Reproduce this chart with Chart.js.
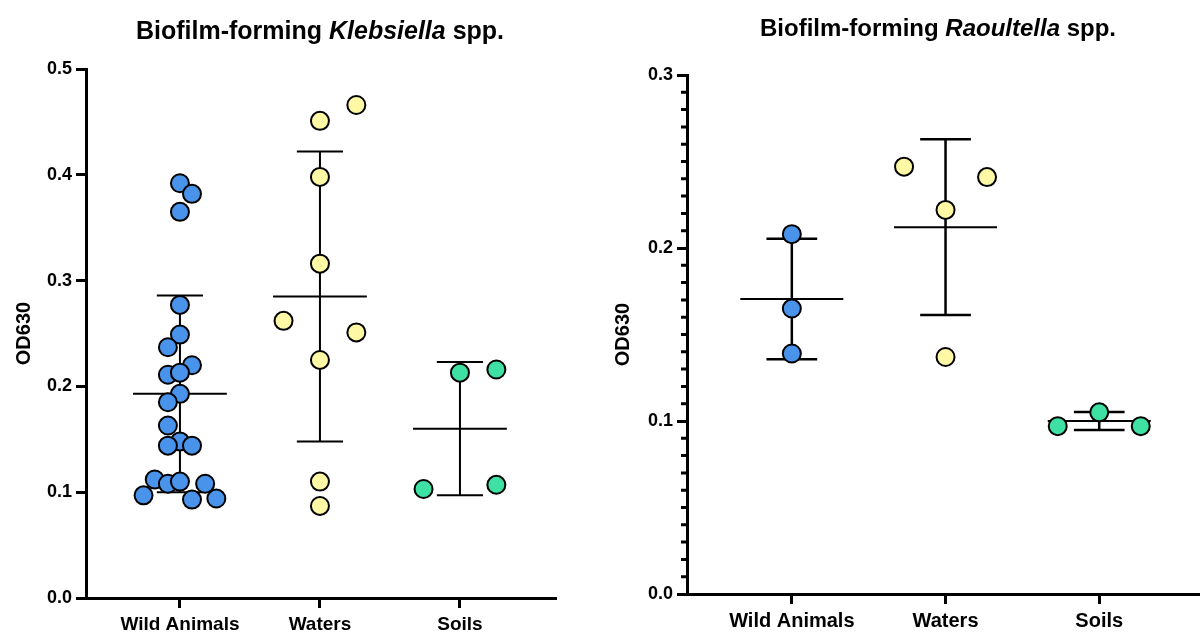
<!DOCTYPE html>
<html>
<head>
<meta charset="utf-8">
<script src="https://cdn.jsdelivr.net/npm/chart.js@4.4.1/dist/chart.umd.min.js"></script>
<style>
  body { margin: 0; background: #fff; }
  #wrap { position: relative; width: 1200px; height: 633px; overflow: hidden; font-family: "Liberation Sans", Arial, sans-serif; }
  .panel { position: absolute; top: 0; width: 600px; height: 633px; }
  .title { position: absolute; font-weight: bold; white-space: nowrap; line-height: 1; transform: translateX(-50%); color: #000; }
</style>
</head>
<body>
<div id="wrap">
  <div class="panel" style="left:0"><canvas id="klebChart"></canvas></div>
  <div class="panel" style="left:600px; width:612px"><canvas id="raoulChart"></canvas></div>
  <div class="title" style="left:320px; top:18px; font-size:25px">Biofilm-forming <i>Klebsiella</i> spp.</div>
  <div class="title" style="left:938px; top:16px; font-size:24px">Biofilm-forming <i>Raoultella</i> spp.</div>
</div>

<script>
const groups = ["Wild Animals", "Waters", "Soils"];

// Klebsiella spp. (left panel)
const klebWildOD = [0.392, 0.382, 0.365, 0.277, 0.249, 0.237, 0.220, 0.211, 0.213, 0.193, 0.185,
                    0.163, 0.148, 0.144, 0.144, 0.112, 0.108, 0.110, 0.108, 0.097, 0.093, 0.094];
const klebWildJitter = [0, 0.086, 0, 0, 0, -0.086, 0.086, -0.086, 0, 0, -0.086,
                        -0.086, 0, -0.086, 0.086, -0.18, -0.086, 0, 0.18, -0.26, 0.086, 0.26];
const klebWaterOD = [0.466, 0.451, 0.398, 0.316, 0.262, 0.251, 0.225, 0.110, 0.087];
const klebWaterJitter = [0.26, 0, 0, 0, -0.26, 0.26, 0, 0, 0];
const klebSoilOD = [0.213, 0.216, 0.103, 0.107];
const klebSoilJitter = [0, 0.26, -0.26, 0.26];
const klebMean = [0.193, 0.285, 0.160];
const klebSD = [0.093, 0.137, 0.063];

// Raoultella spp. (right panel)
const raoulWildOD = [0.208, 0.165, 0.139];
const raoulWildJitter = [0, 0, 0];
const raoulWaterOD = [0.247, 0.241, 0.222, 0.137];
const raoulWaterJitter = [-0.27, 0.27, 0, 0];
const raoulSoilOD = [0.105, 0.097, 0.097];
const raoulSoilJitter = [0, -0.27, 0.27];
const raoulMean = [0.1705, 0.212, 0.100];
const raoulSD = [0.0348, 0.0508, 0.0052];

const groupColors = ["#4a93ea", "#fff9a6", "#3ee0a3"];

Chart.defaults.font.family = "'Liberation Sans', Arial, sans-serif";
Chart.defaults.color = "#000";

// mean line + SD whiskers, drawn under the points
const errorBarPlugin = {
  id: "errorBars",
  beforeDatasetsDraw(chart, args, opts) {
    const { ctx, scales: { x, y } } = chart;
    ctx.save();
    ctx.strokeStyle = "#000";
    opts.means.forEach((m, i) => {
      const cx = x.getPixelForValue(i);
      const yTop = y.getPixelForValue(m + opts.sds[i]);
      const yBot = y.getPixelForValue(m - opts.sds[i]);
      const yMean = y.getPixelForValue(m);
      ctx.lineWidth = opts.barWidth;
      ctx.beginPath();
      ctx.moveTo(cx, yTop);
      ctx.lineTo(cx, yBot);
      [yTop, yBot].forEach(py => {
        ctx.moveTo(x.getPixelForValue(i - opts.capHalf), py);
        ctx.lineTo(x.getPixelForValue(i + opts.capHalf), py);
      });
      ctx.stroke();
      ctx.lineWidth = opts.meanWidth;
      ctx.beginPath();
      ctx.moveTo(x.getPixelForValue(i - opts.meanHalf), yMean);
      ctx.lineTo(x.getPixelForValue(i + opts.meanHalf), yMean);
      ctx.stroke();
    });
    ctx.restore();
  }
};

// short minor ticks on the y axis
const minorTickPlugin = {
  id: "minorTicks",
  afterDraw(chart, args, opts) {
    if (!opts.step) return;
    const { ctx, chartArea, scales: { y } } = chart;
    ctx.save();
    ctx.strokeStyle = "#000";
    ctx.lineWidth = 3;
    ctx.beginPath();
    for (let k = 1; k * opts.step < y.max - 1e-9; k++) {
      if (k % opts.every === 0) continue;
      const py = y.getPixelForValue(k * opts.step);
      ctx.moveTo(chartArea.left, py);
      ctx.lineTo(chartArea.left - opts.length, py);
    }
    ctx.stroke();
    ctx.restore();
  }
};

function groupDataset(values, jitter, groupIndex) {
  return {
    data: values.map((v, k) => ({ x: groupIndex + jitter[k], y: v })),
    backgroundColor: groupColors[groupIndex],
    borderColor: "#000",
    borderWidth: 2,
    pointRadius: 9,
    pointHoverRadius: 9
  };
}

function makeChart(id, cfg) {
  return new Chart(document.getElementById(id), {
    type: "scatter",
    data: { datasets: cfg.datasets },
    plugins: [errorBarPlugin, minorTickPlugin],
    options: {
      responsive: true,
      maintainAspectRatio: false,
      animation: false,
      layout: { padding: cfg.padding },
      plugins: {
        legend: { display: false },
        tooltip: { enabled: false },
        errorBars: {
          means: cfg.means, sds: cfg.sds,
          meanHalf: 0.335, capHalf: 0.165,
          barWidth: cfg.barWidth, meanWidth: 2
        },
        minorTicks: cfg.minor || {}
      },
      scales: {
        x: {
          type: "linear",
          min: cfg.xMin,
          max: cfg.xMax,
          afterBuildTicks: axis => { axis.ticks = groups.map((g, i) => ({ value: i })); },
          afterFit: s => { s.height = cfg.xHeight; },
          ticks: {
            autoSkip: false,
            maxRotation: 0,
            padding: 5,
            font: { size: cfg.xFont, weight: "bold" },
            callback: v => groups[v]
          },
          grid: { drawOnChartArea: false, tickLength: 10, tickWidth: 3, tickColor: "#000" },
          border: { display: true, color: "#000", width: 3 }
        },
        y: {
          min: 0,
          max: cfg.yMax,
          afterFit: s => { s.width = cfg.yWidth; },
          ticks: {
            stepSize: 0.1,
            padding: 4,
            font: { size: 18, weight: "bold" },
            callback: v => v.toFixed(1)
          },
          grid: { drawOnChartArea: false, tickLength: 10, tickWidth: 3, tickColor: "#000" },
          border: { display: true, color: "#000", width: 3 },
          title: {
            display: true,
            text: "OD630",
            font: { size: 20, weight: "bold" },
            padding: { top: 4, bottom: 0 }
          }
        }
      }
    }
  });
}

makeChart("klebChart", {
  datasets: [
    groupDataset(klebWildOD, klebWildJitter, 0),
    groupDataset(klebWaterOD, klebWaterJitter, 1),
    groupDataset(klebSoilOD, klebSoilJitter, 2)
  ],
  means: klebMean,
  sds: klebSD,
  barWidth: 2,
  padding: { left: 8, top: 69, right: 44, bottom: 0 },
  yWidth: 78,
  xHeight: 35,
  xMin: -0.671,
  xMax: 2.686,
  yMax: 0.5,
  xFont: 19
});

makeChart("raoulChart", {
  datasets: [
    groupDataset(raoulWildOD, raoulWildJitter, 0),
    groupDataset(raoulWaterOD, raoulWaterJitter, 1),
    groupDataset(raoulSoilOD, raoulSoilJitter, 2)
  ],
  means: raoulMean,
  sds: raoulSD,
  barWidth: 2.5,
  padding: { left: 7, top: 75, right: 0, bottom: 0 },
  yWidth: 80,
  xHeight: 39,
  xMin: -0.682,
  xMax: 2.662,
  yMax: 0.3,
  xFont: 20,
  minor: { step: 0.01, every: 10, length: 6 }
});
</script>
</body>
</html>
